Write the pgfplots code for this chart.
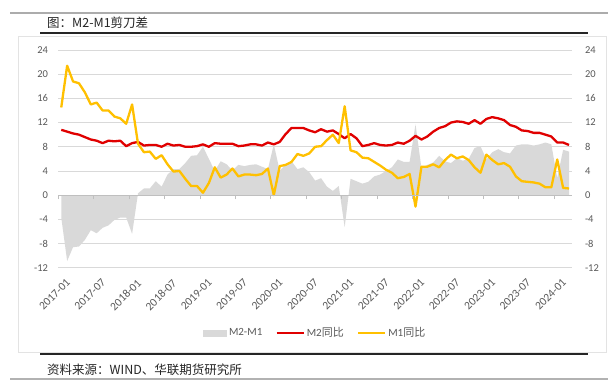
\documentclass[border=0pt]{standalone}
\usepackage{fontspec}
\setmainfont{Carlito}
\newfontfamily\cjk{Noto Sans CJK SC}
\usepackage{pgfplots}
\pgfplotsset{compat=1.18}
\usepackage{pgfplotstable}
\definecolor{m2red}{HTML}{E00000}
\definecolor{m1yel}{HTML}{FFC000}
\definecolor{areagray}{HTML}{D9D9D9}
\definecolor{gridgray}{HTML}{D9D9D9}
\definecolor{tickgray}{HTML}{BFBFBF}
\definecolor{labgray}{HTML}{595959}
\definecolor{txtdark}{HTML}{262626}

\pgfplotstableread{
x m2 m1 d
0 10.8 14.5 -3.7
1 10.5 21.4 -10.9
2 10.2 18.8 -8.6
3 10.0 18.5 -8.5
4 9.6 17.0 -7.4
5 9.2 15.0 -5.8
6 9.0 15.3 -6.3
7 8.6 14.0 -5.4
8 9.0 14.0 -5.0
9 8.9 13.0 -4.1
10 9.0 12.7 -3.7
11 8.1 11.8 -3.7
12 8.6 15.0 -6.4
13 8.8 8.5 0.3
14 8.2 7.1 1.1
15 8.3 7.2 1.1
16 8.3 6.0 2.3
17 8.0 6.6 1.4
18 8.5 5.1 3.4
19 8.2 3.9 4.3
20 8.3 4.0 4.3
21 8.0 2.7 5.3
22 8.0 1.5 6.5
23 8.1 1.5 6.6
24 8.4 0.4 8.0
25 8.0 2.0 6.0
26 8.6 4.6 4.0
27 8.5 2.9 5.6
28 8.5 3.4 5.1
29 8.5 4.4 4.1
30 8.1 3.1 5.0
31 8.2 3.4 4.8
32 8.4 3.4 5.0
33 8.4 3.3 5.1
34 8.2 3.5 4.7
35 8.7 4.4 4.3
36 8.4 0.0 8.4
37 8.8 4.8 4.0
38 10.1 5.0 5.1
39 11.1 5.5 5.6
40 11.1 6.8 4.3
41 11.1 6.5 4.6
42 10.7 6.9 3.8
43 10.4 8.0 2.4
44 10.9 8.1 2.8
45 10.5 9.1 1.4
46 10.7 10.0 0.7
47 10.1 8.6 1.5
48 9.4 14.7 -5.3
49 10.1 7.4 2.7
50 9.4 7.1 2.3
51 8.1 6.2 1.9
52 8.3 6.1 2.2
53 8.6 5.5 3.1
54 8.3 4.9 3.4
55 8.2 4.2 4.0
56 8.3 3.7 4.6
57 8.7 2.8 5.9
58 8.5 3.0 5.5
59 9.0 3.5 5.5
60 9.8 -1.9 11.7
61 9.2 4.7 4.5
62 9.7 4.7 5.0
63 10.5 5.1 5.4
64 11.1 4.6 6.5
65 11.4 5.8 5.6
66 12.0 6.7 5.3
67 12.2 6.1 6.1
68 12.1 6.4 5.7
69 11.8 5.8 6.0
70 12.4 4.6 7.8
71 11.8 3.7 8.1
72 12.6 6.7 5.9
73 12.9 5.8 7.1
74 12.7 5.1 7.6
75 12.4 5.3 7.1
76 11.6 4.7 6.9
77 11.3 3.1 8.2
78 10.7 2.3 8.4
79 10.6 2.2 8.4
80 10.3 2.1 8.2
81 10.3 1.9 8.4
82 10.0 1.3 8.7
83 9.7 1.3 8.4
84 8.7 5.9 2.8
85 8.7 1.2 7.5
86 8.3 1.1 7.2
}\data

\begin{document}
\begin{tikzpicture}[x=1pt,y=1pt]
\fill[white] (0,0) rectangle (616,-384);
\draw[txtdark, line width=1.5pt] (40,-33) -- (588,-33);
\draw[gray!22, line width=0.75pt] (18,-36) rectangle (606,-352);
\draw[txtdark, line width=1.5pt] (40,-354) -- (588,-354);
\draw[gray!60, line width=2pt] (10,-378.5) -- (608,-378.5);
\draw[gray!65, line width=1.6pt] (10,-13) -- (608,-13);
\node[anchor=west, inner sep=0pt, font=\cjk\fontsize{12.5}{14}\selectfont, text=txtdark] at (47,-23) {图：M2-M1剪刀差};
\node[anchor=west, inner sep=0pt, font=\cjk\fontsize{12.5}{14}\selectfont, text=txtdark] at (47,-370) {资料来源：WIND、华联期货研究所};

\begin{axis}[
  at={(58.3pt,-267.7pt)}, anchor=south west,
  width=513.7pt, height=217.7pt, scale only axis,
  xmin=-0.5, xmax=86.5, ymin=-12, ymax=24,
  ytick={-12,-8,...,24},
  xtick={0,6,...,84},
  xticklabels={2017-01,2017-07,2018-01,2018-07,2019-01,2019-07,2020-01,2020-07,2021-01,2021-07,2022-01,2022-07,2023-01,2023-07,2024-01},
  axis line style={draw=none},
  major tick length=0pt,
  ymajorgrids, grid style={gridgray, line width=0.8pt},
  tick label style={font=\fontsize{10.5}{12}\selectfont, text=labgray},
  yticklabel style={anchor=east, xshift=-6.8pt},
  xticklabel style={rotate=45, anchor=north east, yshift=-7pt, xshift=-1pt, font=\fontsize{11.5}{13}\selectfont},
  /pgf/number format/assume math mode=true,
  legend columns=3,
  legend style={draw=none, fill=none, at={(0.500,-0.30)}, anchor=center,
    font=\fontsize{11}{13}\selectfont, text=labgray,
    /tikz/every even column/.append style={column sep=11pt}},
]
\addplot[fill=areagray, draw=none,
  legend image code/.code={\fill[areagray] (0pt,-3.5pt) rectangle (24pt,3.5pt);}]
  table[x=x, y=d]{\data} \closedcycle;
\addlegendentry{M2-M1}
\addplot[m2red, line width=2.3pt, line join=round,
  legend image code/.code={\draw[m2red, line width=2.5pt] (0pt,0pt) -- (27pt,0pt);}]
  table[x=x, y=m2]{\data};
\addlegendentry{M2{\cjk 同比}}
\addplot[m1yel, line width=2.3pt, line join=round,
  legend image code/.code={\draw[m1yel, line width=2.5pt] (0pt,0pt) -- (27pt,0pt);}]
  table[x=x, y=m1]{\data};
\addlegendentry{M1{\cjk 同比}}
\end{axis}

\begin{axis}[
  at={(58.3pt,-267.7pt)}, anchor=south west,
  width=513.7pt, height=217.7pt, scale only axis,
  xmin=-0.5, xmax=86.5, ymin=-12, ymax=24,
  ytick={-12,-8,...,24}, xtick=\empty,
  axis line style={draw=none},
  major tick length=0pt,
  yticklabel pos=right,
  tick label style={font=\fontsize{10.5}{12}\selectfont, text=labgray},
  yticklabel style={anchor=west, xshift=9.5pt},
  /pgf/number format/assume math mode=true,
]
\end{axis}

\begin{axis}[
  at={(58.3pt,-267.7pt)}, anchor=south west,
  width=513.7pt, height=217.7pt, scale only axis,
  xmin=-0.5, xmax=86.5, ymin=-12, ymax=24,
  axis x line=middle, axis y line=none,
  x axis line style={draw=tickgray, line width=0.75pt, -},
  xtick={-0.5,5.5,...,83.5}, xticklabels={},
  tick align=outside, major tick length=4pt,
  x tick style={draw=tickgray, line width=0.75pt},
]
\end{axis}
\pgfresetboundingbox
\path[use as bounding box] (0,0) rectangle (616,-384);
\end{tikzpicture}
\end{document}
